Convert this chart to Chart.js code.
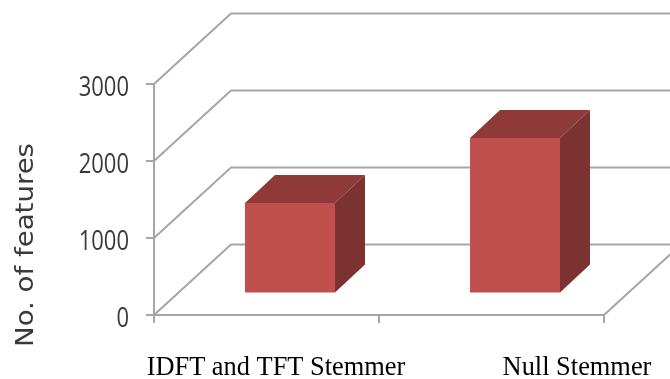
<!DOCTYPE html>
<html>
<head>
<meta charset="utf-8">
<style>
  html, body { margin: 0; padding: 0; background: #fff; }
  #wrap { width: 670px; height: 379px; }
</style>
<script src="https://cdn.jsdelivr.net/npm/chart.js@4"></script>
</head>
<body>
<div id="wrap"><canvas id="featuresChart" width="670" height="379"></canvas></div>
<script>
const categories = ["IDFT and TFT Stemmer", "Null Stemmer"];
const featureCounts = [1175, 2020];
const yTicks = [0, 1000, 2000, 3000];
const yTitle = "No. of features";

const GRID = "#a6a6a6";
// depth of the fake 3d box and of the bars inside it
const WALL_DX = 77, WALL_DY = -70.5;
const BAR_DX = 30, BAR_DY = -28;
const BAR_SHIFT_X = 23.5, BAR_SHIFT_Y = -21.5;
const LABEL_SHIFT = [9.5, 85.5];

const box3d = {
  id: "box3d",
  beforeDatasetsDraw(chart) {
    const { ctx, scales: { x, y } } = chart;
    ctx.save();
    ctx.strokeStyle = GRID;
    ctx.lineWidth = 2;
    yTicks.forEach((t) => {
      const py = y.getPixelForValue(t);
      ctx.beginPath();
      ctx.moveTo(x.left, py);
      ctx.lineTo(x.left + WALL_DX, py + WALL_DY);
      ctx.lineTo(chart.width, py + WALL_DY);
      ctx.stroke();
    });
    // right edge of the floor
    ctx.beginPath();
    ctx.moveTo(x.right, y.bottom);
    ctx.lineTo(x.right + WALL_DX, y.bottom + WALL_DY);
    ctx.stroke();
    ctx.restore();
  },
  beforeDatasetDraw(chart) {
    chart.ctx.save();
    chart.ctx.translate(BAR_SHIFT_X, BAR_SHIFT_Y);
  },
  afterDatasetDraw(chart, args) {
    const ctx = chart.ctx;
    args.meta.data.forEach((bar) => {
      const l = bar.x - bar.width / 2, r = bar.x + bar.width / 2;
      ctx.fillStyle = "#8f3a38";
      ctx.beginPath();
      ctx.moveTo(l, bar.y);
      ctx.lineTo(l + BAR_DX, bar.y + BAR_DY);
      ctx.lineTo(r + BAR_DX, bar.y + BAR_DY);
      ctx.lineTo(r, bar.y);
      ctx.fill();
      ctx.fillStyle = "#7b3230";
      ctx.beginPath();
      ctx.moveTo(r, bar.y);
      ctx.lineTo(r + BAR_DX, bar.y + BAR_DY);
      ctx.lineTo(r + BAR_DX, bar.base + BAR_DY);
      ctx.lineTo(r, bar.base);
      ctx.fill();
    });
    ctx.restore();
  },
  afterDraw(chart) {
    const { ctx, scales: { x, y } } = chart;
    ctx.save();
    ctx.fillStyle = "#000";
    ctx.font = '26.4px "Liberation Serif"';
    ctx.textAlign = "center";
    ctx.textBaseline = "alphabetic";
    categories.forEach((c, i) => {
      ctx.fillText(c, x.getPixelForValue(i) + LABEL_SHIFT[i], 375);
    });

    // tick labels in the picture are stretched upwards, so squeeze them by hand
    ctx.fillStyle = "#3a3a3a";
    ctx.font = '22px "Open Sans"';
    ctx.textAlign = "right";
    yTicks.forEach((t) => {
      ctx.save();
      ctx.translate(129, y.getPixelForValue(t) + 12);
      ctx.scale(1, 1.27);
      ctx.fillText(String(t), 0, 0);
      ctx.restore();
    });

    // same for the axis title, which is stretched along its length
    ctx.translate(33, 245);
    ctx.rotate(-Math.PI / 2);
    ctx.scale(1.15, 1);
    ctx.textAlign = "center";
    ctx.font = '24px "DejaVu Sans"';
    ctx.fillText(yTitle, 0, 0);
    ctx.restore();
  }
};

new Chart(document.getElementById("featuresChart"), {
  type: "bar",
  data: {
    labels: categories,
    datasets: [
      {
        data: featureCounts,
        backgroundColor: "#c0504d",
        barPercentage: 0.4,
        categoryPercentage: 1,
        clip: false
      }
    ]
  },
  options: {
    responsive: false,
    animation: false,
    layout: { padding: { top: 84, right: 66, left: 0, bottom: 0 } },
    plugins: {
      legend: { display: false },
      tooltip: { enabled: false }
    },
    scales: {
      x: {
        afterFit(s) { s.height = 64; },
        ticks: { display: false },
        border: { color: GRID, width: 2 },
        grid: { drawOnChartArea: false, color: GRID, lineWidth: 2, tickLength: 8 }
      },
      y: {
        min: 0,
        max: 3000,
        afterFit(s) { s.width = 154; },
        afterBuildTicks(s) { s.ticks = yTicks.map((v) => ({ value: v })); },
        ticks: { display: false },
        border: { color: GRID, width: 2 },
        grid: { drawOnChartArea: false, color: GRID, lineWidth: 2, tickLength: 8 }
      }
    }
  },
  plugins: [box3d]
});
</script>
</body>
</html>
